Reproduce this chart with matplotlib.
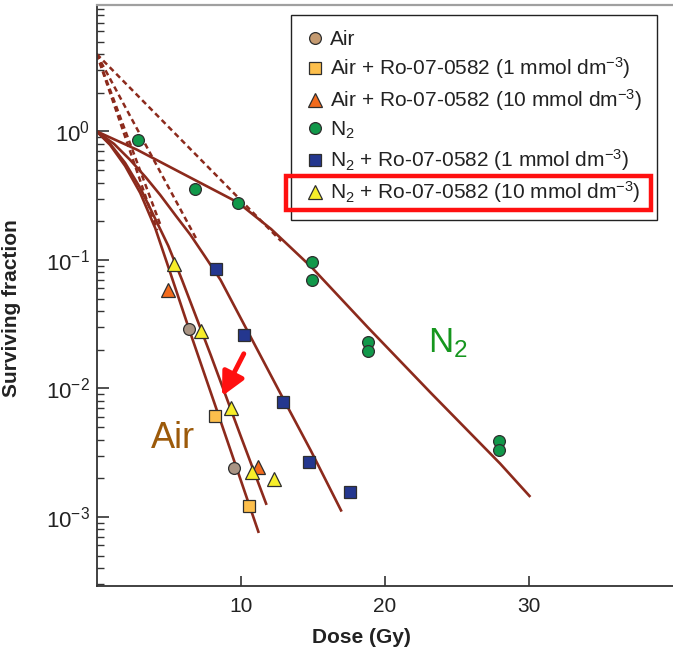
import matplotlib
matplotlib.use("Agg")
import matplotlib.pyplot as plt
from matplotlib.patches import Rectangle
from matplotlib.transforms import IdentityTransform
from matplotlib.ticker import LogLocator, NullFormatter, FixedLocator

plt.rcParams['font.family'] = ['Liberation Sans', 'DejaVu Sans']
plt.rcParams['mathtext.default'] = 'regular'

# ---- measured points (dose in Gy, surviving fraction) ----
air_x = [6.4, 9.56]
air_y = [0.029, 0.0024]

air_ro1_x = [8.22, 10.6]
air_ro1_y = [0.0061, 0.00122]

air_ro10_x = [4.92, 11.2]
air_ro10_y = [0.0585, 0.00243]

n2_x = [2.88, 6.85, 9.84, 14.92, 14.92, 18.8, 18.8, 27.95, 27.95]
n2_y = [0.85, 0.355, 0.277, 0.0964, 0.070, 0.0231, 0.0197, 0.0039, 0.0033]

n2_ro1_x = [8.26, 10.21, 12.9, 14.71, 17.59]
n2_ro1_y = [0.0847, 0.0262, 0.0078, 0.00268, 0.00157]

n2_ro10_x = [5.38, 7.21, 9.30, 10.81, 12.3]
n2_ro10_y = [0.093, 0.0278, 0.0070, 0.00222, 0.00197]

# ---- fitted curves ----
fit_n2_x = [0, 2.8, 5.8, 9.8, 12.1, 14.9, 18.8, 23.2, 28.0, 30.1]
fit_n2_y = [1.0, 0.72, 0.48, 0.28, 0.174, 0.088, 0.030, 0.0092, 0.0026, 0.00143]

fit_n2_ro1_x = [0, 1.2, 2.32, 3.4, 4.41, 5.5, 6.5, 7.5, 8.59, 10.68, 12.76, 14.85, 17.0]
fit_n2_ro1_y = [1.0, 0.80, 0.60, 0.44, 0.32, 0.22, 0.157, 0.107, 0.070, 0.0252, 0.0091, 0.0033, 0.0011]

fit_air_x = [0, 0.93, 1.97, 3.02, 4.06, 4.90, 6.50, 8.59, 11.25]
fit_air_y = [1.0, 0.785, 0.539, 0.332, 0.177, 0.0931, 0.0270, 0.0056, 0.00075]

fit_air2_x = [0, 0.93, 1.97, 3.02, 4.06, 4.97, 5.92, 7.92, 9.98, 11.79]
fit_air2_y = [1.0, 0.80, 0.569, 0.363, 0.209, 0.1285, 0.0699, 0.0181, 0.0043, 0.00124]

# extrapolated terminal slopes (dashed): start -> end
dash_start = (0, 4.0)
dash_end_x = [12.8, 7.0, 4.4, 4.2]
dash_end_y = [0.14, 0.14, 0.19, 0.17]

labels = ["Air",
          "Air + Ro-07-0582 (1 mmol dm$^{\u22123}$)",
          "Air + Ro-07-0582 (10 mmol dm$^{\u22123}$)",
          "N$_2$",
          "N$_2$ + Ro-07-0582 (1 mmol dm$^{\u22123}$)",
          "N$_2$ + Ro-07-0582 (10 mmol dm$^{\u22123}$)"]

curve_color = '#8c2a1c'
edge = '#2e2e2e'

fig = plt.figure(figsize=(6.73, 6.48), dpi=100)
ax = fig.add_axes([0.1437, 0.0957, 0.8563, 0.8963])
ax.set_yscale('log')

for cx, cy in [(fit_n2_x, fit_n2_y), (fit_n2_ro1_x, fit_n2_ro1_y),
               (fit_air_x, fit_air_y), (fit_air2_x, fit_air2_y)]:
    ax.plot(cx, cy, color=curve_color, lw=1.9, solid_capstyle='butt', zorder=2)

for ex, ey in zip(dash_end_x, dash_end_y):
    ax.plot([dash_start[0], ex], [dash_start[1], ey], color=curve_color,
            lw=1.8, ls=(0, (2.2, 1.5)), zorder=2)

ms = 8.5
h_air, = ax.plot(air_x, air_y, 'o', ms=ms, mfc='#a99484', mec=edge, mew=0.9, zorder=4)
h_air1, = ax.plot(air_ro1_x, air_ro1_y, 's', ms=ms - 0.5, mfc='#fdbf4c', mec=edge, mew=0.9, zorder=4)
h_air10, = ax.plot(air_ro10_x, air_ro10_y, '^', ms=ms + 1, mfc='#f26b1d', mec=edge, mew=0.9, zorder=4)
h_n2, = ax.plot(n2_x, n2_y, 'o', ms=ms, mfc='#11984a', mec=edge, mew=0.9, zorder=4)
h_n21, = ax.plot(n2_ro1_x, n2_ro1_y, 's', ms=ms - 0.5, mfc='#24378f', mec=edge, mew=0.9, zorder=4)
h_n210, = ax.plot(n2_ro10_x, n2_ro10_y, '^', ms=ms + 1, mfc='#f7ee2a', mec=edge, mew=0.9, zorder=4)

# legend uses the tan circle shown in the key
leg_air, = ax.plot([], [], 'o', ms=ms, mfc='#c49a70', mec=edge, mew=0.9)

# curve labels and arrow
ax.text(5.3, 0.0041, "Air", color='#9c5a0a', fontsize=26, ha='center', va='center')
ax.text(24.4, 0.0225, "N$_2$", color='#16961e', fontsize=25, ha='center', va='center')
ax.annotate('', xy=(8.70, 0.0087), xytext=(10.21, 0.0186),
            arrowprops=dict(arrowstyle='-|>,head_length=0.7,head_width=0.35',
                            color='#ff1010', lw=3.5, mutation_scale=20,
                            shrinkA=0, shrinkB=0), zorder=5)

ax.set_xlim(0, 40)
ax.set_ylim(2.9e-4, 9.6)
ax.xaxis.set_major_locator(FixedLocator([10, 20, 30]))
ax.yaxis.set_major_locator(LogLocator(base=10, numticks=10))
ax.yaxis.set_minor_locator(LogLocator(base=10, subs=range(2, 10), numticks=20))
ax.yaxis.set_minor_formatter(NullFormatter())

ax.tick_params(axis='x', which='major', direction='in', length=7, width=1.1,
               labelsize=15, pad=8, colors='#222222')
ax.tick_params(axis='y', which='major', direction='in', length=8.5, width=1.1,
               labelsize=16, pad=5, colors='#222222')
ax.tick_params(axis='y', which='minor', direction='in', length=5, width=1.0, colors='#333333')

ax.spines['right'].set_visible(False)
ax.spines['top'].set_color('#a0a0a0')
ax.spines['top'].set_linewidth(1.6)
for s in ['left', 'bottom']:
    ax.spines[s].set_color('#333333')
    ax.spines[s].set_linewidth(1.3)

ax.set_xlabel("Dose (Gy)", fontsize=15, fontweight='bold', color='#222222')
ax.xaxis.set_label_coords(0.46, -0.072)
ax.set_ylabel("Surviving fraction", fontsize=15, fontweight='bold', color='#222222')
ax.yaxis.set_label_coords(-0.132, 0.478)

leg = ax.legend([leg_air, h_air1, h_air10, h_n2, h_n21, h_n210], labels,
                loc='upper right', bbox_to_anchor=(657 / 673, 1 - 15 / 648),
                bbox_transform=fig.transFigure, borderaxespad=0,
                fontsize=15, frameon=True, fancybox=False, framealpha=1,
                edgecolor='#222222', handletextpad=0.25, handlelength=0.9,
                labelspacing=0.3, borderpad=0.72)
leg.get_frame().set_linewidth(1.0)
for t in leg.get_texts():
    t.set_color('#222222')

# red box around the last legend entry
fig.canvas.draw()
lb = leg.get_window_extent()
tb = leg.get_texts()[-1].get_window_extent()
rect = Rectangle((lb.x0 - 5, tb.y0 - 5), (lb.x1 - 6) - (lb.x0 - 5), tb.height + 8,
                 transform=IdentityTransform(), fill=False, edgecolor='#ff1010', lw=3.2, zorder=10)
fig.patches.append(rect)

fig.savefig("out.png", dpi=100)
